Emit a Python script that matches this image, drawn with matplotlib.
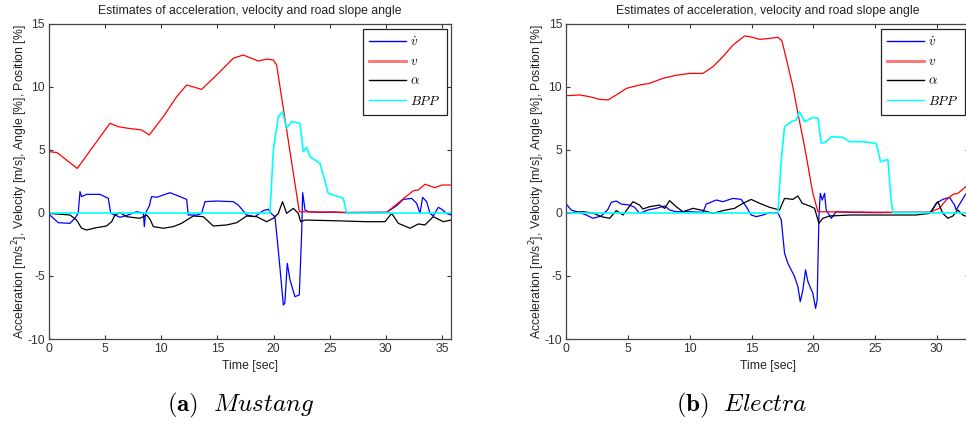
import matplotlib
matplotlib.use('Agg')
import matplotlib.pyplot as plt
from matplotlib.font_manager import FontProperties

plt.rcParams['font.family'] = ['Liberation Sans', 'DejaVu Sans']
plt.rcParams['axes.unicode_minus'] = False

# ---- Mustang (a) ----
mus_acc_t = [0, 0.83, 1.87, 2.3, 2.6, 2.76, 2.9, 3.35, 4.54, 5.28, 5.5, 5.88, 6.32, 6.91, 7.8,
             8.4, 8.49, 8.6, 8.95, 9.05, 9.14, 9.6, 10.77, 11.67, 12.26, 12.4, 13.2, 13.59, 13.89,
             14.93, 16.41, 16.86, 17.6, 18.34, 19.08, 19.53, 19.8, 20.12, 20.42, 20.87, 21.0,
             21.22, 21.46, 21.9, 22.29, 22.5, 22.59, 22.8, 23.1, 24.2, 25.3, 26.5, 28.0, 30.07,
             30.96, 31.55, 32.3, 32.74, 33.04, 33.27, 33.63, 33.93, 34.22, 34.67, 34.97, 35.4, 35.8]
mus_acc = [-0.1, -0.77, -0.82, -0.42, -0.03, 1.69, 1.3, 1.48, 1.48, 1.16, -0.03, -0.16, -0.34,
           -0.2, 0.1, 0.0, -1.08, 0.0, 0.6, 1.03, 1.3, 1.25, 1.61, 1.3, 1.08, -0.16, -0.16, -0.03,
           0.9, 0.95, 0.9, 0.63, -0.16, -0.29, 0.19, 0.29, -0.05, -0.29, -2.94, -7.3, -7.17, -4.0,
           -5.3, -6.64, -6.5, -1.61, 1.61, 0.24, 0.1, 0.05, 0.08, 0.02, 0.04, 0.05, 0.58, 1.08,
           1.16, 0.77, -0.03, 1.24, 0.9, -0.03, -0.24, 0.45, 0.3, -0.03, -0.16]

mus_vel_t = [0, 0.7, 2.52, 5.43, 6.17, 7.06, 8.25, 8.93, 10.18, 11.37, 12.26, 13.59, 15.08, 16.41,
             17.3, 18.64, 19.38, 19.98, 20.27, 22.29, 26.5, 30.07, 32.44, 32.9, 33.48, 34.37,
             34.97, 35.8]
mus_vel = [4.87, 4.8, 3.54, 7.12, 6.85, 6.72, 6.59, 6.19, 7.65, 9.23, 10.16, 9.81, 11.08, 12.28,
           12.54, 12.06, 12.22, 12.14, 11.75, 0.1, 0.05, 0.05, 1.77, 1.83, 2.28, 2.01, 2.22, 2.22]

mus_ang_t = [0, 1.87, 2.46, 2.9, 3.35, 4.24, 5.13, 5.58, 5.88, 6.32, 6.91, 8.1, 8.7, 9.0, 9.29,
             10.18, 11.07, 11.81, 12.26, 12.85, 13.74, 14.63, 15.82, 16.71, 17.6, 18.49, 19.38,
             19.98, 20.42, 20.8, 21.16, 21.76, 22.2, 22.41, 22.8, 25.3, 28.29, 29.92, 30.52,
             31.11, 32.15, 32.89, 33.48, 34.22, 35.11, 35.8]
mus_ang = [-0.03, -0.16, -0.56, -1.21, -1.35, -1.16, -1.03, -0.69, -0.16, 0.03, -0.29, -0.42,
           -0.16, -0.5, -1.08, -1.21, -1.08, -0.82, -0.56, -0.24, -0.29, -1.03, -0.95, -0.77,
           -0.24, -0.29, -0.69, -0.42, -0.03, 0.9, -0.03, 0.37, -0.03, -0.69, -0.56, -0.61,
           -0.69, -0.69, -0.03, -0.82, -1.21, -0.87, -0.95, -0.29, -0.69, -0.56]

mus_bpp_t = [0, 19.68, 19.98, 20.42, 20.8, 21.16, 21.61, 22.35, 22.65, 22.94, 23.24, 24.13,
             24.87, 25.32, 26.21, 26.51, 35.8]
mus_bpp = [0, 0, 5.0, 7.65, 8.04, 6.72, 7.25, 7.12, 4.87, 5.21, 4.47, 3.94, 1.56, 1.43, 1.16,
           0.0, 0]

# ---- Electra (b) ----
ele_acc_t = [0, 0.4, 1.08, 1.62, 2.16, 2.83, 3.37, 3.64, 4.05, 4.45, 5.13, 5.53, 5.93, 6.61,
             7.28, 7.96, 8.36, 8.9, 9.98, 11.06, 11.33, 12.14, 12.68, 13.49, 14.16, 14.57, 14.97,
             15.38, 15.92, 16.46, 17.13, 17.4, 17.67, 17.94, 18.48, 18.75, 18.94, 19.15, 19.37,
             19.56, 19.96, 20.18, 20.31, 20.45, 20.56, 20.72, 20.91, 21.04, 21.45, 21.85, 23.0,
             25.0, 27.0, 29.54, 29.94, 30.48, 31.02, 31.43, 31.56, 31.96, 32.34, 32.6]
ele_acc = [0.71, 0.24, 0.03, -0.16, -0.42, -0.24, 0.29, 0.85, 0.95, 0.71, 0.63, 0.45, -0.03,
           0.24, 0.37, 0.56, 0.24, 0.1, 0.1, 0.05, 0.71, 1.03, 0.9, 1.16, 1.08, 0.5, -0.16, -0.29,
           -0.16, 0.03, 0.0, -0.53, -3.2, -4.0, -5.05, -5.85, -7.04, -6.11, -4.52, -5.45, -6.38,
           -7.57, -6.9, -0.29, 1.56, 1.03, 1.56, 0.24, -0.42, 0.1, 0.05, 0.03, 0.05, 0.05, 0.77,
           1.08, 1.24, 0.63, 0.24, 0.9, 1.51, 1.6]

ele_vel_t = [0, 1.08, 1.89, 2.7, 3.37, 4.05, 4.86, 5.93, 6.74, 7.82, 8.9, 9.98, 11.06, 11.87,
             12.68, 13.49, 14.43, 14.84, 15.65, 16.46, 17.13, 17.45, 17.8, 18.34, 18.75, 19.29,
             19.96, 20.37, 26.44, 29.4, 30.2, 30.75, 31.3, 31.7, 32.6]
ele_vel = [9.31, 9.37, 9.23, 9.02, 8.97, 9.37, 9.89, 10.16, 10.29, 10.69, 10.93, 11.08, 11.08,
           11.61, 12.41, 13.33, 14.05, 14.0, 13.78, 13.86, 13.94, 13.68, 12.28, 10.03, 7.91,
           5.26, 1.56, 0.1, 0.05, 0.05, 0.37, 1.03, 1.48, 1.56, 2.3]

ele_ang_t = [0, 1.35, 2.16, 2.83, 3.51, 4.05, 4.59, 5.4, 5.93, 6.2, 6.74, 7.55, 7.96, 8.36, 8.9,
             9.44, 10.25, 11.06, 11.87, 12.68, 13.62, 14.3, 14.97, 15.65, 16.46, 17.26, 17.67,
             18.34, 18.75, 19.1, 19.69, 20.1, 20.45, 20.77, 21.31, 22.93, 28.32, 29.4, 30.08,
             30.48, 30.89, 31.29, 31.7, 32.1, 32.6]
ele_ang = [0, 0.1, 0, -0.29, -0.42, 0.19, -0.16, 0.9, 0.63, 0.32, 0.5, 0.63, 0.37, 0.98, 0.5,
           0.1, 0.37, 0.2, -0.03, 0.19, 0.37, 0.77, 1.08, 0.77, 0.45, 0.24, 1.16, 1.08, 1.35,
           0.77, 0.56, 0.37, -0.82, -0.42, -0.24, -0.16, -0.16, -0.03, 0.9, -0.03, -0.42, -0.24,
           0.24, -0.16, -0.35]

ele_bpp_t = [0, 17.13, 17.4, 17.67, 18.21, 18.61, 18.88, 19.29, 19.96, 20.37, 20.64, 21.04,
             21.45, 22.39, 22.93, 24.01, 25.09, 25.44, 26.03, 26.3, 26.44, 32.6]
ele_bpp = [0, 0, 4.21, 6.85, 7.25, 7.38, 8.04, 7.25, 7.59, 7.51, 5.53, 5.66, 6.06, 6.01, 5.66,
           5.66, 5.53, 4.07, 4.26, 1.03, 0.03, 0]

labels = [r'$\dot{v}$', r'$v$', r'$\alpha$', r'$BPP$']
title = 'Estimates of acceleration, velocity and road slope angle'
ylabel = 'Acceleration [m/s$^2$], Velocity [m/s], Angle [%], Position [%]'

W, H = 966, 425
fig = plt.figure(figsize=(W / 100, H / 100), dpi=100)

# axes in pixel coords: left, right, xmax
panels = [
    (49, 451, 35.8, mus_acc_t, mus_acc, mus_vel_t, mus_vel, mus_ang_t, mus_ang,
     mus_bpp_t, mus_bpp, r'$\mathbf{(a)}\ \ \mathit{Mustang}$', 241),
    (566.3, 969, 32.6, ele_acc_t, ele_acc, ele_vel_t, ele_vel, ele_ang_t, ele_ang,
     ele_bpp_t, ele_bpp, r'$\mathbf{(b)}\ \ \mathit{Electra}$', 742),
]
top, bottom = 24, 339
fs = 8.8

for (l, r, xmax, at, a, vt, v, gt, g, bt, b, cap, capx) in panels:
    ax = fig.add_axes([l / W, 1 - bottom / H, (r - l) / W, (bottom - top) / H])
    ax.plot(at, a, color='#0000ff', lw=0.9, label=labels[0])
    ax.plot(vt, v, color='#ff0000', lw=0.9, label=labels[1])
    ax.plot(gt, g, color='black', lw=0.9, label=labels[2])
    ax.plot(bt, b, color='#00ffff', lw=1.2, label=labels[3])
    ax.set_xticks(range(0, 36, 5))
    ax.set_yticks(range(-10, 16, 5))
    ax.set_xlim(0, xmax)
    ax.set_ylim(-10, 15)
    ax.tick_params(direction='in', top=True, right=True, length=3, width=0.8,
                   labelsize=fs, colors='#333333', pad=3)
    for s in ax.spines.values():
        s.set_color('#444444')
        s.set_linewidth(0.9)
    ax.set_title(title, fontsize=fs, color='#222222', pad=7)
    ax.set_xlabel('Time [sec]', fontsize=fs, color='#222222', labelpad=3.5)
    ax.set_ylabel(ylabel, fontsize=fs, color='#222222', labelpad=-2)
    leg = ax.legend(loc='upper right', fancybox=False, edgecolor='#222222', framealpha=1,
                    prop=FontProperties(size=9.5, math_fontfamily='cm'),
                    handlelength=2.8, handletextpad=0.3, labelspacing=0.55, borderpad=0.5,
                    borderaxespad=0,
                    bbox_to_anchor=(1 - 4 / (r - l), 1 - 5 / (bottom - top)))
    leg.get_frame().set_linewidth(0.9)
    for line in leg.get_lines():
        line.set_linewidth(1.0)
    leg.get_lines()[1].set_linewidth(2.0)
    leg.get_lines()[1].set_color('#ff7070')
    fig.text(capx / W, 1 - 405 / H, cap, ha='center', va='center', fontsize=18,
             math_fontfamily='cm')

fig.savefig('out.png', dpi=100)
